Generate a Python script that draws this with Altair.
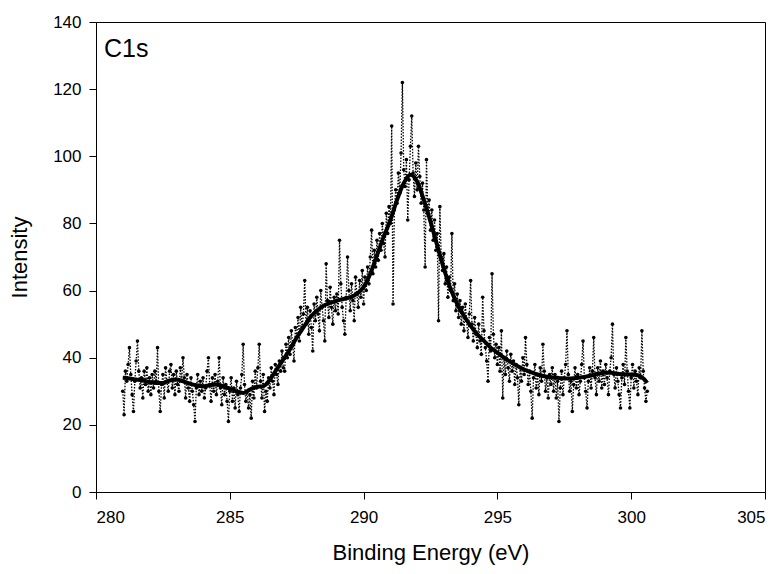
import altair as alt
import numpy as np
import pandas as pd

# ---- raw C1s counts (0.05 eV apart, 281.0 -> 300.6 eV) ----
raw_counts = [
    30, 23, 36, 33, 38, 43, 35, 29, 24, 33, 39, 45, 36, 31, 34, 28, 36, 32, 37, 30,
    34, 29, 35, 31, 36, 33, 43, 30, 24, 32, 35, 28, 37, 33, 30, 36, 38, 31, 35, 29,
    36, 32, 30, 37, 33, 40, 34, 28, 35, 31, 27, 34, 30, 26, 21, 31, 35, 29, 33, 30,
    34, 28, 31, 36, 40, 32, 27, 34, 30, 35, 29, 33, 40, 31, 26, 34, 29, 32, 27, 21,
    30, 34, 27, 31, 25, 33, 29, 24, 31, 35, 44, 32, 27, 30, 25, 29, 22, 33, 28, 36,
    31, 37, 44, 33, 28, 35, 24, 30, 27, 34, 31, 37, 33, 29, 38, 35, 32, 39, 36, 42,
    37, 36, 44, 40, 46, 41, 48, 44, 39, 49, 46, 52, 45, 55, 49, 53, 63, 50, 55, 47,
    54, 49, 42, 56, 51, 58, 53, 48, 60, 55, 51, 45, 68, 57, 52, 61, 55, 50, 58, 54,
    59, 53, 75, 62, 55, 51, 47, 58, 70, 60, 54, 62, 57, 51, 64, 59, 55, 63, 58, 66,
    56, 64, 60, 67, 62, 70, 78, 65, 72, 67, 75, 69, 77, 72, 80, 74, 70, 83, 77, 85,
    80, 109, 56, 84, 90, 86, 95, 89, 101, 122, 96, 91, 99, 81, 93, 103, 112, 95, 88, 98,
    90, 103, 94, 86, 92, 84, 67, 99, 83, 87, 78, 84, 75, 81, 72, 77, 51, 85, 70, 66,
    71, 62, 67, 58, 64, 60, 77, 57, 62, 54, 59, 52, 57, 50, 55, 48, 56, 51, 46, 53,
    63, 50, 45, 52, 47, 43, 50, 45, 41, 58, 48, 43, 39, 33, 46, 42, 65, 47, 40, 44,
    38, 43, 36, 48, 28, 40, 35, 42, 37, 33, 41, 36, 39, 32, 38, 34, 26, 37, 33, 40,
    35, 46, 38, 32, 36, 30, 22, 34, 38, 31, 35, 29, 37, 33, 44, 36, 30, 34, 28, 35,
    32, 37, 30, 35, 28, 33, 21, 31, 36, 29, 34, 38, 48, 35, 30, 33, 24, 32, 37, 31,
    35, 29, 33, 38, 45, 34, 30, 25, 33, 37, 31, 36, 46, 34, 29, 37, 33, 39, 31, 36,
    32, 38, 34, 29, 36, 40, 50, 35, 31, 37, 33, 29, 25, 34, 38, 32, 46, 36, 30, 25,
    34, 38, 31, 36, 33, 29, 37, 34, 48, 36, 31, 27, 30,
]

# ---- smoothed envelope (every 0.25 eV, then 300.6) ----
smooth_counts = [
    34.0, 33.8, 33.5, 33.2, 32.8, 32.5, 32.5, 33.2, 33.5, 33.0,
    32.3, 31.8, 31.5, 31.8, 32.0, 31.5, 30.8, 30.0, 29.5, 30.5,
    31.3, 31.5, 33.5, 36.5, 39.5, 42.5, 46.0, 49.0, 52.0, 54.0,
    55.5, 56.3, 57.0, 57.5, 58.0, 59.0, 61.0, 65.0, 70.5, 76.0,
    81.0, 87.0, 92.0, 94.5, 92.5, 87.0, 80.5, 73.5, 66.5, 60.5,
    56.0, 52.5, 49.5, 47.0, 45.0, 43.0, 41.5, 40.0, 38.7, 37.5,
    36.5, 35.7, 35.0, 34.5, 34.2, 34.0, 33.8, 33.8, 34.0, 34.3,
    34.7, 35.2, 35.5, 35.5, 35.2, 35.0, 35.0, 34.8, 33.5, 32.5,
]

E_START, E_STEP = 281.0, 0.05
SMOOTH_STEP, E_LAST = 0.25, 300.6
x_ticks = [280, 285, 290, 295, 300, 305]
y_ticks = [0, 20, 40, 60, 80, 100, 120, 140]

raw_energy = np.round(E_START + E_STEP * np.arange(len(raw_counts)), 2)
smooth_energy = list(np.round(E_START + SMOOTH_STEP * np.arange(len(smooth_counts) - 1), 2)) + [E_LAST]

raw_df = pd.DataFrame({"energy": raw_energy, "intensity": raw_counts})
smooth_df = pd.DataFrame({"energy": smooth_energy, "intensity": smooth_counts})

FONT = "Liberation Sans"

x_enc = alt.X(
    "energy:Q",
    scale=alt.Scale(domain=[280, 305], nice=False, zero=False),
    axis=alt.Axis(
        title="Binding Energy (eV)", values=x_ticks, format="d",
        grid=False, tickSize=7, labelPadding=10, titlePadding=17,
        labelFontSize=17, titleFontSize=22, titleFontWeight="normal",
        labelFont=FONT, titleFont=FONT, domainColor="black",
        tickColor="black", labelColor="black", titleColor="black",
    ),
)
y_enc = alt.Y(
    "intensity:Q",
    scale=alt.Scale(domain=[0, 140], nice=False),
    axis=alt.Axis(
        title="Intensity", values=y_ticks, format="d",
        grid=False, tickSize=7, labelPadding=8, titlePadding=21,
        labelFontSize=17, titleFontSize=22, titleFontWeight="normal",
        labelFont=FONT, titleFont=FONT, domainColor="black",
        tickColor="black", labelColor="black", titleColor="black",
    ),
)

raw_line = alt.Chart(raw_df).mark_line(
    color="black", strokeWidth=1.3, strokeDash=[1.5, 1.5]
).encode(x=x_enc, y=y_enc)

raw_pts = alt.Chart(raw_df).mark_circle(
    color="black", size=13, opacity=1
).encode(x="energy:Q", y="intensity:Q")

smooth_line = alt.Chart(smooth_df).mark_line(
    color="black", strokeWidth=4, interpolate="monotone"
).encode(x="energy:Q", y="intensity:Q")

label = alt.Chart(pd.DataFrame({"t": ["C1s"]})).mark_text(
    align="left", baseline="alphabetic", fontSize=25, font=FONT, color="black"
).encode(x=alt.value(8), y=alt.value(35), text="t:N")

chart = alt.layer(raw_line, raw_pts, smooth_line, label).properties(
    width=669, height=470,
    autosize=alt.AutoSizeParams(type="none"),
    padding={"left": 96, "top": 22, "right": 6, "bottom": 82},
    background="white",
).configure_view(stroke="black", strokeWidth=1)

chart.save("out.html", embed_options={"renderer": "svg", "actions": False})
